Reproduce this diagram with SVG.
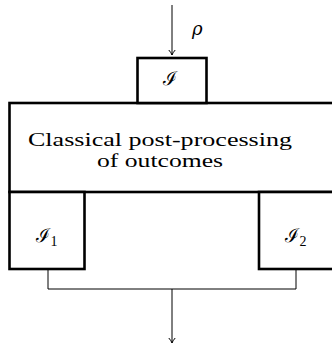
<svg xmlns="http://www.w3.org/2000/svg" width="332" height="347" viewBox="0 0 332 347">
<style>
.box{fill:#fff;stroke:#000;stroke-width:2.6}
.wire{fill:none;stroke:#000;stroke-width:1}
.lbl{font-family:"Liberation Serif","DejaVu Serif",serif;fill:#000}
.cal{font-family:"DejaVu Serif","Liberation Serif","Noto Sans",serif;fill:#000}
.rho{font-family:"DejaVu Serif","Liberation Serif",serif;font-style:italic;fill:#000}
</style>
<defs>
<marker id="arr" viewBox="-6 -4 7 8" refX="0" refY="0" markerWidth="7" markerHeight="8" markerUnits="userSpaceOnUse" orient="auto">
<path d="M-5,-3.2 Q-2,-0.6 0,0 Q-2,0.6 -5,3.2" fill="none" stroke="#000" stroke-width="1"/>
</marker>
</defs>
<g id="connectors">
<line class="wire" x1="172" y1="5" x2="172" y2="55" marker-end="url(#arr)"/>
<polyline class="wire" points="48,270 48,289 296,289 296,270"/>
<line class="wire" x1="172" y1="289" x2="172" y2="343" marker-end="url(#arr)"/>
</g>
<g id="rho">
<text class="rho" x="192" y="35" font-size="18">ρ</text>
</g>
<g id="post">
<rect class="box" x="9.5" y="103" width="330" height="89"/>
<text class="lbl" x="160" y="146" font-size="19.5" text-anchor="middle" textLength="264" lengthAdjust="spacingAndGlyphs">Classical post-processing</text>
<text class="lbl" x="160" y="167" font-size="19.5" text-anchor="middle" textLength="126" lengthAdjust="spacingAndGlyphs">of outcomes</text>
</g>
<g id="I">
<rect class="box" x="137.5" y="58" width="69" height="45"/>
<text class="cal" x="170" y="85" font-size="19" text-anchor="middle">ℐ</text>
</g>
<g id="I1">
<rect class="box" x="9.5" y="192" width="75" height="77"/>
<text class="cal" x="43" y="242" font-size="19" text-anchor="middle">ℐ</text>
<text class="lbl" x="54" y="246" font-size="14" text-anchor="middle">1</text>
</g>
<g id="I2">
<rect class="box" x="259" y="192" width="80" height="77"/>
<text class="cal" x="292" y="242" font-size="19" text-anchor="middle">ℐ</text>
<text class="lbl" x="303" y="246" font-size="14" text-anchor="middle">2</text>
</g>
</svg>
